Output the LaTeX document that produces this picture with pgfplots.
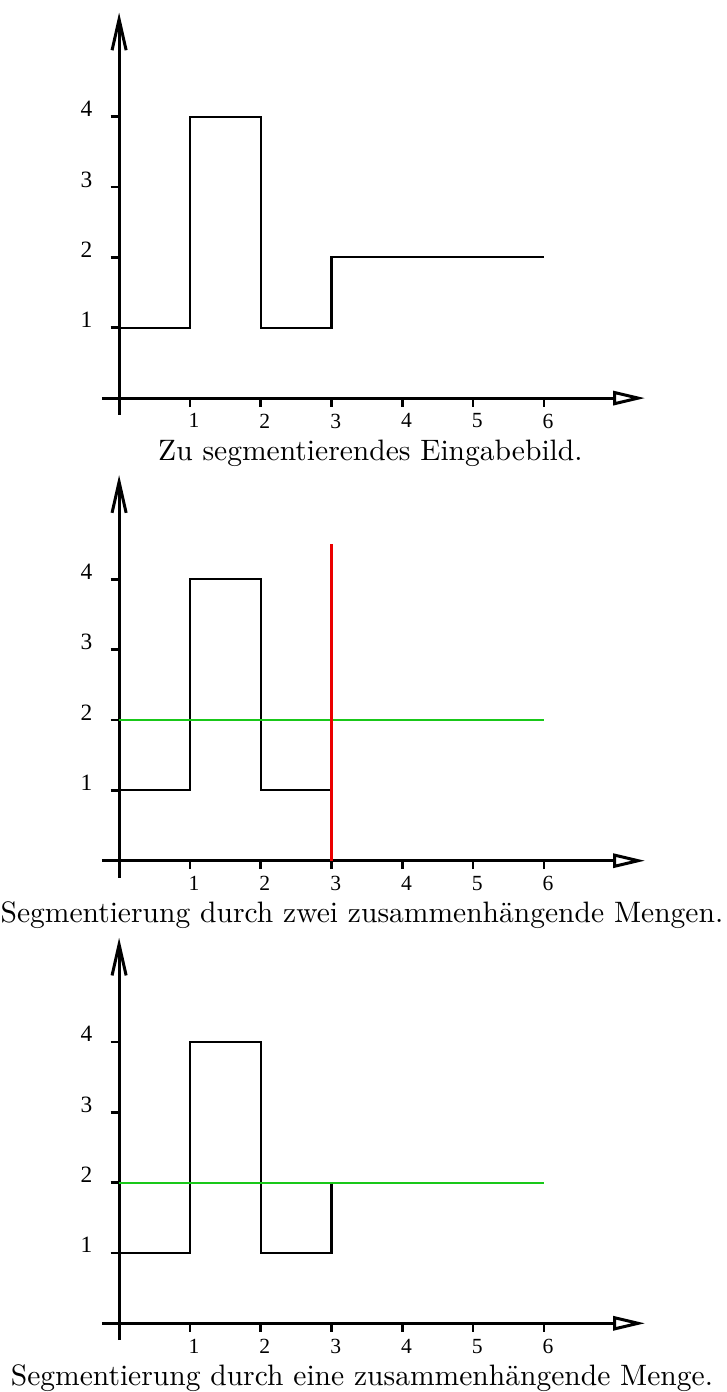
\documentclass[border=0pt]{standalone}
\usepackage{pgfplots}
\pgfplotsset{compat=1.18}
\usepackage{fontspec}
\newfontfamily\tickfont{Liberation Serif}
\usetikzlibrary{arrows.meta}
\definecolor{lgreen}{RGB}{25,200,25}
\definecolor{lred}{RGB}{235,0,0}

\pgfplotsset{
 panel/.style={
  axis lines=middle,
  x=23.6pt, y=23.45pt,
  xmin=-0.245, xmax=7.43, ymin=-0.24, ymax=5.48,
  xtick={1,...,6}, ytick={1,...,4},
  tick align=outside,
  major tick length=2.8pt,
  tick style={line width=0.9pt, black},
  axis line style={line width=1pt},
  x axis line style={-{Triangle[open,length=10.7pt,width=4.7pt,line width=1pt]}},
  y axis line style={-{Straight Barb[length=10.3pt,width=4.7pt,line width=1pt]}},
  /pgf/number format/assume math mode=true,
  xticklabel style={font=\tickfont\fontsize{7.2}{8}\selectfont, inner sep=0pt, anchor=north, xshift=1.4pt, yshift=-2.2pt},
  yticklabel style={font=\tickfont\fontsize{7.8}{9}\selectfont, inner sep=0pt, anchor=base east, xshift=-5.9pt},
  clip=false,
  anchor=origin,
 },
}
\tikzset{
 stepline/.style={black, line width=0.7pt, mark=none},
 captext/.style={anchor=base, font=\fontsize{9.85}{12}\selectfont, yshift=-20.7pt},
}

\begin{document}
\begin{tikzpicture}
\useasboundingbox (-39.7pt,-331.3pt) rectangle (202.3pt,132.7pt);
% Panel 1
\begin{axis}[panel, at={(0,0)}]
\addplot[stepline] coordinates {(0,1) (1,1) (1,4) (2,4) (2,1) (3,1) (3,2) (6,2)};
\node[captext] at (axis cs:3.55,0) {Zu segmentierendes Eingabebild.};
\end{axis}
% Panel 2
\begin{axis}[panel, at={(0,-154.2pt)}]
\addplot[stepline] coordinates {(0,1) (1,1) (1,4) (2,4) (2,1) (3,1)};
\addplot[lgreen, line width=0.7pt, mark=none] coordinates {(0,2) (6,2)};
\addplot[draw=lred, line width=0.8pt, mark=none] coordinates {(3,0) (3,4.5)};
\node[captext] at (axis cs:3.43,0) {Segmentierung durch zwei zusammenhängende Mengen.};
\end{axis}
% Panel 3
\begin{axis}[panel, at={(0,-308.4pt)}]
\addplot[stepline] coordinates {(0,1) (1,1) (1,4) (2,4) (2,1) (3,1) (3,2) (6,2)};
\addplot[lgreen, line width=0.7pt, mark=none] coordinates {(0,2) (6,2)};
\node[captext] at (axis cs:3.43,0) {Segmentierung durch eine zusammenhängende Menge.};
\end{axis}
\end{tikzpicture}
\end{document}
